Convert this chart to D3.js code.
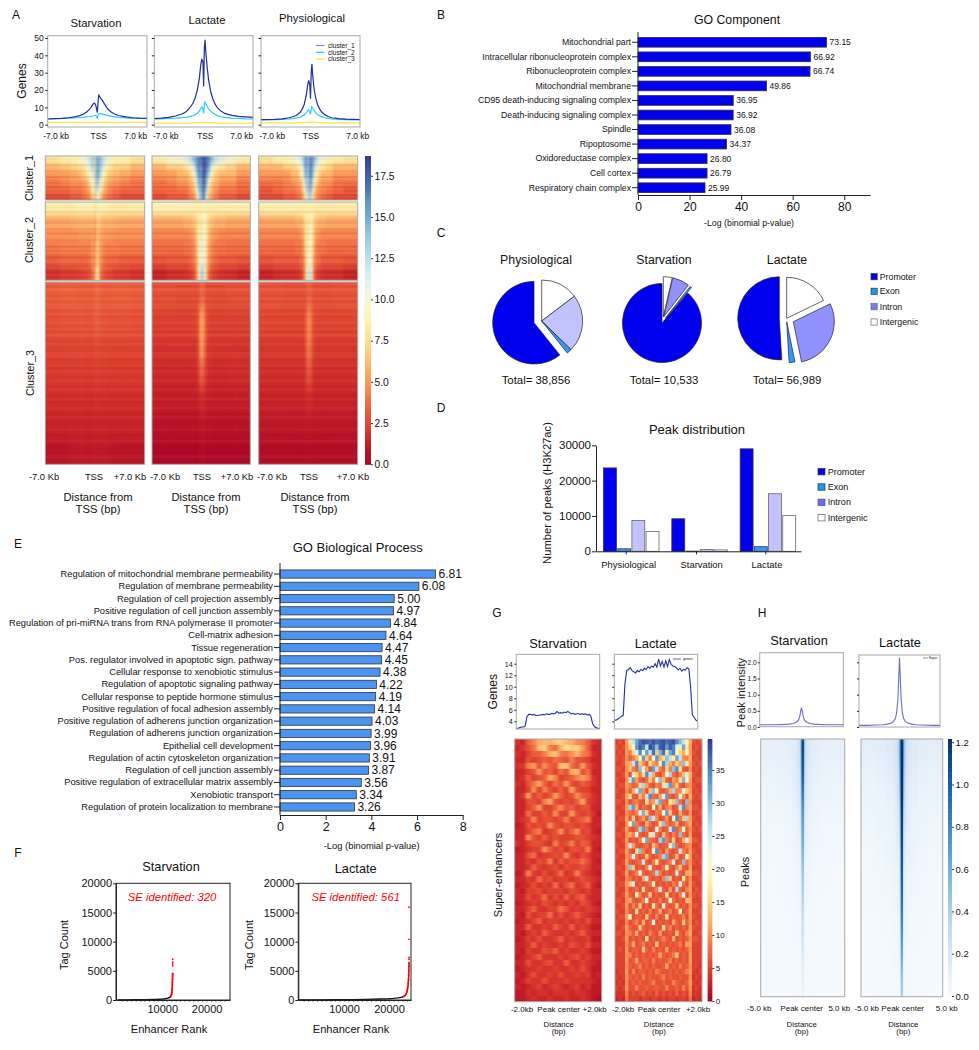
<!DOCTYPE html>
<html>
<head>
<meta charset="utf-8">
<script src="https://cdn.jsdelivr.net/npm/d3@7"></script>
<style>
  html, body { margin: 0; background: #fff; }
  svg { display: block; }
  text { font-family: "Liberation Sans", Arial, sans-serif; fill: #111; }
</style>
</head>
<body>
<div id="chart"></div>
<script>
// --- PART 1: DATA ---

// A: TSS profiles, distance in kb
const tssDistance = [-7,-6,-5,-4,-3,-2.5,-2,-1.5,-1.2,-.9,-.6,-.4,-.25,-.1,0,.1,.2,.3,.5,.7,1,1.3,1.6,2,2.5,3,4,5,6,7];
const starvCluster1 = [3.3,3.5,3.7,4,4.7,5.2,6,7.3,8.5,10,12,12.5,11.5,9,7,13,17,16.5,15,14,12,10,8.5,7.2,6,5.3,4.5,4,3.8,3.7];
const starvCluster2 = [3.3,3.5,3.6,3.8,4,4.1,4.3,4.5,4.6,4.8,5,5.3,5.3,4.8,3.5,5.6,6.3,6.4,6.3,6.1,5.8,5.5,5.2,4.8,4.5,4.2,3.9,3.7,3.6,3.5];
const starvCluster3 = [1.3,1.3,1.3,1.3,1.3,1.3,1.3,1.3,1.3,1.3,1.3,1.3,1.3,1.3,1.2,1.3,1.4,1.4,1.3,1.3,1.3,1.3,1.3,1.3,1.3,1.3,1.3,1.3,1.3,1.3];
const lacCluster1 = [3.5,3.8,4.2,5,6.3,7.5,9.5,12.5,15.5,20,27,35,38,36,22,44,49,42,33,26,19,15,12,9.5,7.7,6.5,5.4,4.8,4.5,4.2];
const lacCluster2 = [3.3,3.4,3.6,3.8,4.1,4.3,4.7,5.3,5.8,6.6,8,9.5,10.3,9,6.5,11.5,13,12,10.5,9.2,7.8,6.8,6,5.2,4.6,4.2,3.8,3.6,3.4,3.3];
const lacCluster3 = [.9,.9,.9,.9,.9,.9,.9,1,1,1.1,1.2,1.3,1.4,1.3,1.1,1.4,1.5,1.4,1.3,1.2,1.1,1,1,.9,.9,.9,.9,.9,.9,.9];
const physCluster1 = [2.9,3,3.1,3.4,4,4.6,5.3,7,8.7,11.5,17,23,25.5,23,15,30,35,29,21,16,11.5,9,7.3,5.8,4.7,4,3.5,3.2,3.1,3];
const physCluster2 = [2.7,2.8,2.9,3,3.3,3.5,3.8,4.3,4.8,5.6,7,8,8.5,7.5,6,9,10.3,9.5,8.3,7,5.8,5,4.5,4,3.6,3.3,3,2.9,2.8,2.8];
const physCluster3 = [1.1,1.1,1.1,1.1,1.1,1.1,1.1,1.2,1.2,1.3,1.4,1.5,1.6,1.5,1.3,1.6,1.7,1.6,1.5,1.3,1.2,1.2,1.1,1.1,1.1,1.1,1.1,1.1,1.1,1.1];
const clusterNames = ["cluster_1", "cluster_2", "cluster_3"];

// A: heatmap cells, column edges in kb
const tssEdges = [-7,-5,-3.5,-2.5,-1.8,-1.3,-.9,-.6,-.3,-.1,.1,.3,.6,.9,1.3,1.8,2.5,3.5,5,7];
const heatStarvC1 = [
  [8,9,9,10,10,11,12,13,14,8,15,15,14,13,11,10,9,9,8],
  [6,6.5,7,7.5,8,9,11,13,13,7,15,15,14,12,9,8,7,7,6],
  [5,5,5.5,6,7,8,9,11,12,7,15,15,13,10,8,6.5,6,5.5,5],
  [4,4.5,5,5,5.5,6,8,10,11,7,14,14,11,8,6.5,5.5,5,4.5,4],
  [3.5,3.5,4,4,4.5,5,6,8,10,7,13,12,9,7,5.5,4.5,4,3.5,3.5],
  [2.5,2.5,3,3,3.5,4,4.5,6,8,5,12,10,7,5,4,3.5,3,2.5,2.5]];
const heatLacC1 = [
  [9,10,10,11,12,14,15,16,17,16,18,18,17,16,14,12,11,10,9],
  [6,7,7,8,9,11,14,16,17,14,18,18,17,15,11,9,8,7,6],
  [5,5,6,6,7,9,12,15,17,14,18,18,16,13,9,7,6,6,5],
  [4,4.5,5,5,6,7,10,14,16,13,18,17,15,10,7,6,5,5,4],
  [3.5,3.5,4,4,5,6,8,12,16,13,17,17,13,8,6,5,4,4,3.5],
  [2.5,3,3,3,4,4.5,6,10,15,12,17,16,11,6,5,4,3,3,2.5]];
const heatPhysC1 = [
  [8,9,9,10,10,11,13,15,16,13,16,16,15,13,11,10,9,9,8],
  [6,6,7,7,8,9,11,15,16,12,17,16,14,11,9,8,7,6,6],
  [5,5,5,6,6,8,10,14,16,11,17,16,13,9,7,6,6,5,5],
  [4,4,4.5,5,5.5,6,8,12,15,11,16,15,11,8,6,5,5,4,4],
  [3,3.5,4,4,4.5,5,7,10,15,11,16,14,9,6,5,4.5,4,3.5,3],
  [2.5,2.5,3,3,3.5,4,5,8,13,10,15,12,7,5,4,3.5,3,2.5,2.5]];
const heatStarvC2 = [
  [8.5,8.5,8.5,9,9,9,9,9,9,7.5,9,9,9,9,9,8.5,8.5,8.5,8.5],
  [5.6,5.6,5.8,6,6,6,6,6,6.5,4.5,7,7,6.5,6,6,6,5.8,5.6,5.6],
  [4.8,4.8,4.8,5,5,5,5,5.2,5.6,3.8,6.4,6.2,5.6,5.2,5,5,4.8,4.8,4.8],
  [4,4.2,4.2,4.2,4.2,4.2,4.3,4.8,5.4,3.8,7,6.5,5.2,4.7,4.2,4.2,4.2,4,4],
  [3.1,3.4,3.4,3.4,3.4,3.5,3.8,4.4,5.2,3.8,7.2,6.6,5,4,3.5,3.4,3.4,3.1,3.1],
  [1.8,2.1,2.1,2.2,2.4,2.6,2.8,3.2,4.8,4,9,8,4.2,3.2,2.7,2.5,2.2,2.1,1.8]];
const heatLacC2 = [
  [9,9,9,9,9,8.8,8.8,8.8,9,8.5,9.5,9.5,9,8.8,8.8,8.8,8.8,8.8,8.8],
  [5.6,5.6,5.6,6,6,6.5,7,8,9,7.5,9.5,9.5,8.5,7,6.5,6,6,5.6,5.6],
  [4.4,4.4,4.4,4.4,4.8,5.2,6.2,8,9.8,7.5,10.2,10.2,8.5,6.2,5.2,4.8,4.4,4.4,4.4],
  [3.6,3.6,3.6,3.8,3.9,4.4,5.4,7.5,10,8,10.8,10.4,8,5.4,4.4,3.9,3.8,3.6,3.6],
  [2.8,3,3,3,3.4,3.9,5,7,10,8.8,11,11,7.5,5,3.9,3.4,3,3,2.8],
  [1.3,1.7,1.7,1.8,2.1,2.6,4,6.8,10.5,13,14,11,6.8,3.6,2.6,2.1,1.8,1.7,1.3]];
const heatPhysC2 = [
  [8.8,8.8,8.8,8.8,8.8,8.8,8.8,8.8,9,8.5,9,9,8.8,8.5,8.5,8.5,8.5,8.5,8.5],
  [5.6,5.6,5.6,5.6,6,6,6.5,7.5,8.8,7.5,9.2,9.2,7.5,6.5,6,6,5.6,5.6,5.6],
  [4.4,4.4,4.4,4.4,4.4,4.8,5.3,7,9.5,7,10,9.5,7,5.3,4.8,4.4,4.4,4.4,4.4],
  [3.6,3.6,3.6,3.6,3.9,3.9,4.4,6.5,9.5,7.5,10,9.5,6.5,4.4,3.9,3.9,3.6,3.6,3.6],
  [2.8,3,3,3,3,3.5,4,5.5,9.5,8.5,10.5,9.5,5.5,4,3.5,3,3,3,2.8],
  [1.3,1.7,1.7,1.7,1.8,2.1,3,5,9.5,12,13,10,4.6,2.6,2.1,1.8,1.7,1.7,1.3]];
const heatStarvC3 = [
  [3.2,3.3,3.3,3.2,3.2,3.2,3.2,3.2,3.3,3.4,3.6,3.5,3.3,3.2,3.2,3.2,3.3,3.3,3.2],
  [2.8,2.9,2.9,2.9,2.9,2.9,2.9,2.9,3,3.1,3.4,3.2,3,2.9,2.9,2.9,2.9,2.9,2.8],
  [2.5,2.5,2.5,2.5,2.5,2.5,2.5,2.5,2.6,2.6,2.7,2.6,2.6,2.5,2.5,2.5,2.5,2.5,2.5],
  [2.1,2.1,2.1,2.1,2.1,2.1,2.1,2.1,2.1,2.1,2.2,2.2,2.1,2.1,2.1,2.1,2.1,2.1,2.1],
  [1.7,1.7,1.7,1.7,1.7,1.7,1.7,1.7,1.7,1.7,1.8,1.7,1.7,1.7,1.7,1.7,1.7,1.7,1.7],
  [1.3,1.3,1.3,1.3,1.3,1.3,1.3,1.3,1.3,1.3,1.3,1.3,1.3,1.3,1.3,1.3,1.3,1.3,1.3],
  [.8,.8,.9,.9,.9,.9,.9,.9,.9,.9,.9,.9,.9,.9,.9,.9,.8,.8,.8]];
const heatLacC3 = [
  [2.8,2.8,2.7,2.7,2.7,2.7,2.7,2.8,3.2,3.5,3.7,3.2,2.8,2.7,2.7,2.7,2.7,2.8,2.8],
  [2.3,2.3,2.3,2.3,2.3,2.3,2.4,2.8,4.6,5.4,5.8,4.4,2.8,2.4,2.3,2.3,2.3,2.3,2.3],
  [1.9,1.9,1.9,1.9,1.9,1.9,2,2.5,4.4,5.2,5.2,4,2.5,2,1.9,1.9,1.9,1.9,1.9],
  [1.5,1.5,1.5,1.5,1.5,1.5,1.6,2,2.9,3.5,3.4,2.7,2,1.6,1.5,1.5,1.5,1.6,1.6],
  [1.1,1.1,1.1,1.1,1.1,1.1,1.1,1.2,1.5,1.6,1.6,1.4,1.2,1.1,1.1,1.1,1.1,1.1,1.1],
  [.7,.7,.7,.7,.7,.7,.7,.7,.8,.8,.8,.8,.7,.7,.7,.7,.7,.7,.7],
  [.3,.3,.3,.3,.3,.3,.3,.3,.4,.4,.4,.4,.3,.3,.3,.3,.3,.3,.3]];
const heatPhysC3 = [
  [2.9,2.9,2.8,2.8,2.8,2.8,2.8,2.8,3.1,3.3,3.5,3.2,2.8,2.8,2.8,2.8,2.8,2.9,2.9],
  [2.5,2.5,2.5,2.5,2.5,2.5,2.5,2.7,4,4.6,4.8,3.9,2.7,2.5,2.5,2.5,2.5,2.5,2.5],
  [2.1,2.1,2.1,2.1,2.1,2.1,2.1,2.4,3.6,4.2,4.2,3.4,2.4,2.1,2.1,2.1,2.1,2.1,2.1],
  [1.7,1.7,1.7,1.7,1.7,1.7,1.7,1.9,2.6,3,3,2.5,1.9,1.7,1.7,1.7,1.7,1.7,1.7],
  [1.3,1.3,1.3,1.3,1.3,1.3,1.3,1.4,1.5,1.6,1.6,1.5,1.4,1.3,1.3,1.3,1.3,1.3,1.3],
  [.9,.9,.9,.9,.9,.9,.9,.9,.9,1,1,.9,.9,.9,.9,.9,.9,.9,.9],
  [.5,.5,.5,.5,.5,.5,.5,.5,.5,.5,.5,.5,.5,.5,.5,.5,.5,.5,.5]];
// A: row to row banding (same gene order in the three conditions)
const stripesC1 = [2,-1,1,0,-2,1,2,-1,0,1,-2,2,0,-1,1,-2,1,0,2,-1,1,-2];
const stripesC2 = [2,1,-1,2,-2,1,0,2,-1,-2,1,2,-1,0,-2,2,1,-1,0,2,-2,1,-1,2,0,-2,1,2,-1,-1,2,0,-2,1,-1,1];
const stripesC3 = [1,-1,2,0,-1,1,-1,1,1,-1,1,-1,0,1,-1,1,-1,2,0,-1,1,-1,-1,1,1,-1,0,1,-1,1,0,-1,1,0,-1,1,0,-1,1,-1,0,1,0,-1,1,0,-1,0,1,0,-1,0,1,0,-1,0,0,1,0,-1];
const heatTicks = [0,2.5,5,7.5,10,12.5,15,17.5];

// B: GO Component
const goComponentTerms = ["Mitochondrial part","Intracellular ribonucleoprotein complex","Ribonucleoprotein complex","Mitochondrial membrane","CD95 death-inducing signaling complex","Death-inducing signaling complex","Spindle","Ripoptosome","Oxidoreductase complex","Cell cortex","Respiratory chain complex"];
const goComponentValues = [73.15,66.92,66.74,49.86,36.95,36.92,36.08,34.37,26.80,26.79,25.99];

// C: pie slices, clockwise from the top
const pieSlices = ["Intergenic","Intron","Exon","Promoter"];
const piePhysiological = [5700,8800,756,23600];
const pieStarvation = [380,730,74,9349];
const pieLactate = [10150,16500,1300,29039];
const pieTotals = ["38,856","10,533","56,989"];

// D: Peak distribution
const conditions = ["Physiological","Starvation","Lactate"];
const peakTypes = ["Promoter","Exon","Intron","Intergenic"];
const peaksPromoter = [23600,9200,29000];
const peaksExon = [700,50,1300];
const peaksIntron = [8700,500,16300];
const peaksIntergenic = [5600,400,10100];

// E: GO Biological Process
const goProcessTerms = ["Regulation of mitochondrial membrane permeability","Regulation of membrane permeability","Regulation of cell projection assembly","Positive regulation of cell junction assembly","Regulation of pri-miRNA trans from RNA polymerase II promoter","Cell-matrix adhesion","Tissue regeneration","Pos. regulator involved in apoptotic sign. pathway","Cellular response to xenobiotic stimulus","Regulation of apoptotic signaling pathway","Cellular response to peptide hormone stimulus","Positive regulation of focal adhesion assembly","Positive regulation of adherens junction organization","Regulation of adherens junction organization","Epithelial cell development","Regulation of actin cytoskeleton organization","Regulation of cell junction assembly","Positive regulation of extracellular matrix assembly","Xenobiotic transport","Regulation of protein localization to membrane"];
const goProcessValues = [6.81,6.08,5.00,4.97,4.84,4.64,4.47,4.45,4.38,4.22,4.19,4.14,4.03,3.99,3.96,3.91,3.87,3.56,3.34,3.26];

// F: enhancer rank curves
const starvRank = [0,2000,4000,6000,8000,9000,10000,10500,11000,11300,11600,11800,11900];
const starvTag = [10,20,40,60,90,120,170,210,280,340,430,520,600];
const starvSeRank = [11900,12000,12100,12150,12200,12230,12260,12280,12300,12320,12340,12350,12350,12350,12350,12350];
const starvSeTag = [600,750,1000,1300,1700,2100,2600,3100,3600,4100,4500,4500,5900,6200,6500,7000];
const lacRank = [0,4000,8000,12000,15000,18000,20000,21000,22000,22600,23000,23300];
const lacTag = [10,20,40,70,100,160,220,280,360,440,520,620];
const lacSeRank = [23300,23600,23800,24000,24100,24200,24280,24340,24380,24420,24440,24450,24450,24450,24450,24450];
const lacSeTag = [620,800,1000,1400,1800,2300,2900,3500,4200,5000,5800,6400,7000,7300,10400,15900];
const seCounts = [320,561];

// G: super-enhancer profiles and heatmaps
const seStarvProfile = [2.7,2.8,2.9,3,3,3.2,4.8,5.2,5.2,5.1,5.2,5,5,5.1,5.1,5.2,5.1,5.3,5.2,5.2,5.4,5.3,5.4,5.7,5.4,5.5,5.4,5.6,5.5,5.7,5.5,5.3,5.4,5.2,5.3,5.3,5.2,5.3,5.2,5.3,5.1,5.2,4.9,3.6,3.1,2.9,2.8,2.7];
const seLacProfile = [4.2,4.2,4.4,4.6,4.9,5,10.5,12.8,13,13.3,12.8,12.6,12.4,12.8,12.6,13,12.8,13.2,13,13.5,13.2,13.6,13.4,14,13.4,14.8,13.6,14.4,13.4,14.5,13.5,14.7,13.9,13.6,13.5,13.3,12.9,13.2,12.7,13,12.9,13.3,13.1,10,5.1,4.7,4.2,4];
const seTicks = [0,5,10,15,20,25,30,35];
const heatSeStarv = [
  [4,3,7,9,12,13,12,14,15,13,12,10,9,7,4,3],
  [3,4,6,8,13,15,9,8,12,16,14,15,11,7,3,3],
  [4,3,5,7,7,9,12,14,9,8,10,13,9,8,4,3],
  [3,3,6,5,6,7,6,8,7,6,9,6,6,5,3,3],
  [4,4,9,11,6,10,7,6,13,14,8,6,11,6,4,3],
  [3,3,5,6,11,6,7,5,8,6,12,13,6,8,3,3],
  [3,4,7,5,6,7,12,9,5,6,7,9,11,9,4,3],
  [4,3,6,8,12,7,5,8,6,11,6,5,7,6,4,3],
  [3,3,5,10,5,9,6,5,7,5,12,6,5,5,3,3],
  [3,4,11,5,7,5,6,11,7,5,6,10,7,6,4,3],
  [3,3,6,6,5,9,12,6,5,6,5,7,12,5,4,3],
  [3,3,5,7,11,5,5,7,10,6,7,5,6,6,3,3],
  [3,3,8,5,5,7,5,10,5,5,11,6,5,6,4,2],
  [3,4,5,10,5,6,6,5,6,9,5,6,7,9,3,3],
  [2,3,6,5,6,5,10,6,5,6,6,5,6,5,3,3],
  [3,3,5,7,9,4,5,6,10,5,7,10,5,6,3,2],
  [3,3,10,6,5,7,5,6,5,5,5,6,6,5,4,3],
  [4,3,5,6,6,5,4,9,5,6,9,5,7,6,3,3],
  [2,3,4,5,5,10,7,5,6,4,6,6,5,9,3,2],
  [3,3,6,8,4,5,5,6,5,10,5,4,6,5,3,3],
  [3,3,5,4,6,5,9,4,7,5,6,6,8,6,3,2],
  [3,3,4,7,5,4,5,6,4,6,5,5,6,5,3,3],
  [2,3,9,5,4,6,4,5,8,4,5,9,5,4,3,2],
  [3,3,5,4,8,5,6,4,5,5,4,5,6,5,4,3],
  [2,3,4,6,4,5,4,8,4,6,8,4,5,7,3,2],
  [3,2,5,5,6,4,5,5,5,4,6,5,4,5,3,3],
  [3,3,6,4,5,8,4,6,4,7,4,6,7,4,3,3],
  [2,3,4,5,4,6,5,4,5,4,5,4,6,5,3,2],
  [3,3,5,7,4,4,5,5,8,6,4,5,4,5,4,3],
  [3,2,6,4,5,5,8,4,6,4,5,7,5,4,3,2],
  [2,3,4,5,7,4,5,5,4,5,4,5,4,6,3,3],
  [3,3,7,4,4,5,4,7,5,4,7,4,5,4,2,2],
  [3,2,4,5,4,7,5,4,4,5,4,5,7,4,3,3],
  [2,3,5,4,6,4,4,5,7,4,5,4,4,5,2,2],
  [3,3,4,7,4,5,4,4,5,4,6,5,4,6,3,3],
  [3,2,5,4,4,6,5,7,4,5,4,4,5,4,2,2],
  [2,3,4,5,7,4,4,4,5,4,5,6,4,5,3,3],
  [3,3,6,4,4,5,6,4,4,7,4,4,5,4,3,2],
  [2,3,4,4,5,4,4,5,4,4,5,4,6,4,2,2],
  [3,2,4,6,4,4,5,4,6,4,4,5,4,5,2,3],
  [2,3,5,4,4,6,4,4,4,5,4,4,4,4,3,2],
  [3,2,3,4,5,3,4,5,4,3,4,5,3,4,2,2],
  [2,2,4,3,4,4,3,4,4,4,3,4,4,3,2,2],
  [2,2,3,4,3,3,4,3,3,4,3,3,4,3,2,1]];
const heatSeLac = [
  [5,6,5,11,17,26,32,36,38,37,36,38,36,37,38,36,37,38,34,30,26,20,12,6,5,6],
  [6,5,6,10,14,20,33,37,35,26,38,36,30,37,38,33,37,35,24,18,32,17,11,5,6,5],
  [5,6,5,11,9,15,24,34,20,33,26,36,14,31,36,17,32,35,21,15,12,20,11,6,5,5],
  [6,5,6,10,7,9,12,19,33,14,9,22,33,12,16,30,26,18,32,26,10,9,12,5,6,5],
  [5,5,6,11,12,26,34,14,10,7,16,11,9,20,34,28,12,9,14,11,30,17,11,6,5,6],
  [6,6,5,10,13,9,7,30,22,11,6,33,26,9,7,15,9,30,34,16,7,6,10,5,6,5],
  [5,5,6,11,6,20,14,9,16,34,26,12,7,6,9,20,28,8,6,9,13,24,12,6,5,5],
  [6,5,5,10,26,33,11,7,6,8,14,9,22,30,13,7,6,11,9,17,31,20,11,5,6,6],
  [5,6,6,11,9,7,8,16,28,11,7,6,9,8,17,26,33,9,14,7,6,9,10,6,5,5],
  [6,5,5,10,7,12,24,32,10,6,14,30,20,7,6,8,12,28,9,10,22,14,11,5,6,5],
  [5,5,6,11,17,7,6,14,9,26,34,8,7,11,24,33,7,6,8,24,10,6,12,6,5,6],
  [6,6,5,10,6,8,9,7,6,16,9,11,26,32,8,7,17,14,30,8,6,30,10,5,5,5],
  [5,5,6,11,28,33,12,6,8,7,6,20,7,12,6,9,10,6,7,26,34,9,11,6,6,5],
  [6,5,5,10,8,7,9,24,31,15,7,6,9,8,22,33,14,7,6,12,7,6,10,5,5,6],
  [5,6,6,11,7,14,6,8,11,7,30,26,10,6,7,11,6,22,34,8,14,28,11,6,5,5],
  [6,5,5,10,20,32,9,7,6,13,8,6,7,17,30,9,7,8,12,6,7,9,12,5,6,5],
  [5,5,6,11,7,6,8,28,33,9,6,7,24,9,6,7,26,34,7,9,20,7,10,6,5,6],
  [6,6,5,10,12,9,24,7,6,7,17,26,8,6,13,8,6,9,7,30,8,6,11,5,5,5],
  [5,5,6,11,6,7,6,9,20,32,8,7,6,28,33,9,7,14,6,7,12,24,12,6,6,5],
  [6,5,5,10,26,11,7,6,7,8,6,13,9,6,7,7,22,30,8,6,7,9,10,5,5,6],
  [5,6,6,11,7,6,17,30,9,6,7,22,34,8,6,11,7,6,7,26,9,7,11,6,5,5],
  [6,5,5,10,9,24,8,6,7,14,7,6,7,9,28,32,6,7,13,6,7,20,11,5,6,5],
  [5,5,6,11,7,6,7,8,26,7,6,9,17,7,6,7,9,24,6,7,30,8,10,6,5,6],
  [6,6,5,10,30,14,6,7,6,9,24,7,6,6,8,20,7,6,9,14,7,6,11,5,5,5],
  [5,5,6,11,6,7,9,22,7,6,7,8,28,9,6,7,6,7,26,7,6,12,12,6,6,5],
  [6,5,5,10,8,6,7,6,12,26,7,6,7,6,9,30,14,6,7,6,17,7,10,5,5,6],
  [5,6,6,11,14,24,6,7,6,7,8,20,6,7,6,7,6,9,7,22,8,6,11,6,5,5],
  [6,5,5,10,6,7,8,6,17,7,6,7,9,26,7,6,11,6,28,7,6,9,11,5,6,5],
  [5,5,6,11,7,6,20,9,6,7,14,6,7,6,7,17,6,7,6,9,24,6,10,6,5,6],
  [6,6,5,10,12,7,6,7,9,24,6,7,6,9,6,7,20,8,6,7,6,13,12,5,5,5],
  [5,5,6,11,6,9,7,14,6,7,6,17,8,6,24,7,6,7,14,6,7,6,10,6,6,5],
  [6,5,5,10,7,6,17,6,7,6,9,6,7,12,6,7,9,6,7,20,6,7,11,5,5,6],
  [5,6,6,11,20,6,7,7,6,14,7,6,9,6,7,17,6,7,6,7,9,6,11,6,5,5],
  [6,5,5,10,6,7,9,6,12,6,7,24,6,7,6,7,6,11,7,6,14,7,10,5,6,5],
  [5,5,6,11,7,6,6,14,7,6,7,6,7,6,17,7,9,6,7,6,7,6,11,6,5,5],
  [6,6,5,10,9,7,12,6,7,6,9,7,6,11,6,6,7,6,14,7,6,9,12,5,5,6],
  [5,5,6,11,6,7,6,7,6,17,6,7,6,7,9,7,6,12,6,7,6,7,10,6,6,5],
  [5,5,5,10,7,12,6,7,9,6,7,6,14,6,7,6,7,6,7,9,6,11,11,5,5,5],
  [5,6,5,11,6,7,7,6,14,7,6,9,6,7,6,11,6,7,6,7,6,7,10,5,5,5],
  [5,5,5,10,9,6,7,6,7,6,7,6,7,11,7,6,7,9,14,6,7,6,11,5,5,5],
  [5,5,5,11,6,7,11,6,7,7,6,9,6,7,6,7,9,6,7,6,7,6,11,5,5,5],
  [5,5,5,10,7,6,7,9,6,7,6,7,6,6,7,12,6,7,6,9,6,7,10,5,5,4],
  [4,5,5,11,6,9,6,7,7,6,7,6,9,7,6,6,7,6,7,6,7,9,11,5,4,5],
  [5,4,5,10,7,6,7,6,9,6,7,6,6,7,9,6,7,6,6,7,6,6,10,4,5,4],
  [4,5,4,10,6,7,6,7,6,6,7,9,6,6,7,6,6,9,7,6,6,7,11,5,4,5],
  [5,4,5,11,6,6,9,6,6,7,6,6,7,6,6,9,6,6,7,6,9,6,10,4,5,4],
  [4,4,4,9,5,6,5,6,7,5,6,5,7,5,6,5,6,5,7,5,6,5,9,4,4,4],
  [3,4,3,8,5,5,5,4,5,5,4,5,5,4,5,4,5,5,4,5,5,4,8,3,4,3]];

// H: peak profiles and heatmaps
const peakDistance = [-5,-4,-3,-2,-1.5,-1,-.7,-.5,-.35,-.2,-.1,0,.1,.2,.35,.5,.7,1,1.5,2,3,4,5];
const peakStarvProfile = [.07,.07,.07,.08,.09,.11,.14,.17,.22,.33,.48,.6,.48,.33,.22,.17,.14,.11,.09,.08,.07,.07,.07];
const peakLacProfile = [.05,.05,.06,.07,.09,.12,.18,.27,.45,.85,1.5,2.15,1.5,.85,.45,.27,.18,.12,.09,.07,.06,.05,.05];
const peakTicks = [0,.2,.4,.6,.8,1,1.2];
const peakEdges = [-5,-3.2,-2,-1.2,-.8,-.5,-.3,-.15,.15,.3,.5,.8,1.2,2,3.2,5];
const heatPeakStarv = [
  [.1,.1,.12,.14,.18,.26,.5,1.1,.5,.26,.18,.14,.12,.1,.1],
  [.08,.09,.1,.12,.16,.22,.42,1,.42,.22,.16,.12,.1,.09,.08],
  [.06,.07,.08,.1,.13,.18,.34,.85,.34,.18,.13,.1,.08,.07,.06],
  [.05,.05,.06,.08,.1,.14,.26,.7,.26,.14,.1,.08,.06,.05,.05],
  [.04,.04,.05,.06,.08,.1,.2,.62,.2,.1,.08,.06,.05,.04,.04],
  [.03,.03,.04,.05,.06,.08,.14,.52,.14,.08,.06,.05,.04,.03,.03],
  [.02,.03,.03,.04,.05,.06,.1,.42,.1,.06,.05,.04,.03,.03,.02],
  [.02,.02,.03,.03,.04,.05,.07,.34,.07,.05,.04,.03,.03,.02,.02],
  [.02,.02,.02,.03,.03,.04,.05,.26,.05,.04,.03,.03,.02,.02,.02],
  [.01,.02,.02,.02,.03,.03,.04,.2,.04,.03,.03,.02,.02,.02,.01],
  [.01,.01,.02,.02,.02,.03,.03,.14,.03,.03,.02,.02,.02,.01,.01],
  [.01,.01,.01,.02,.02,.02,.02,.08,.02,.02,.02,.02,.01,.01,.01]];
const heatPeakLac = [
  [.12,.13,.15,.18,.24,.36,.75,1.2,.75,.36,.24,.18,.15,.13,.12],
  [.09,.1,.12,.15,.2,.3,.65,1.2,.65,.3,.2,.15,.12,.1,.09],
  [.07,.08,.1,.12,.17,.25,.55,1.2,.55,.25,.17,.12,.1,.08,.07],
  [.06,.07,.08,.1,.14,.2,.42,1.15,.42,.2,.14,.1,.08,.07,.06],
  [.05,.06,.07,.08,.11,.16,.32,1.1,.32,.16,.11,.08,.07,.06,.05],
  [.04,.05,.06,.07,.09,.12,.25,1.05,.25,.12,.09,.07,.06,.05,.04],
  [.03,.04,.05,.06,.08,.1,.18,.98,.18,.1,.08,.06,.05,.04,.03],
  [.03,.03,.04,.05,.06,.08,.14,.9,.14,.08,.06,.05,.04,.03,.03],
  [.02,.03,.03,.04,.05,.06,.1,.8,.1,.06,.05,.04,.03,.03,.02],
  [.02,.02,.03,.03,.04,.05,.08,.68,.08,.05,.04,.03,.03,.02,.02],
  [.02,.02,.02,.03,.03,.04,.06,.55,.06,.04,.03,.03,.02,.02,.02],
  [.01,.02,.02,.02,.03,.03,.04,.42,.04,.03,.03,.02,.02,.02,.01]];

// --- PART 2: SVG AND SMALL HELPERS ---
const FIG_WIDTH = 979, FIG_HEIGHT = 1050;
const svg = d3.select("#chart").append("svg").attr("width", FIG_WIDTH).attr("height", FIG_HEIGHT);
const defs = svg.append("defs");
let clipCount = 0;

function label(x, y, str, size, opts = {}) {
  const t = svg.append("text")
    .attr("x", x).attr("y", y).attr("dy", ".35em")
    .attr("font-size", size)
    .attr("text-anchor", opts.anchor || "middle")
    .text(str);
  if (opts.rotate) t.attr("transform", `rotate(${opts.rotate} ${x} ${y})`);
  if (opts.color) t.style("fill", opts.color);
  if (opts.italic) t.attr("font-style", "italic");
  return t;
}

function styleAxis(g, size, color) {
  g.selectAll("text").attr("font-size", size).attr("font-family", null).style("fill", "#111");
  g.selectAll("line,path").attr("stroke", color || "#222");
  return g;
}

function panelBox(box, color, width) {
  svg.append("rect")
    .attr("x", box.x0).attr("y", box.y0)
    .attr("width", box.x1 - box.x0).attr("height", box.y1 - box.y0)
    .attr("fill", "none").attr("stroke", color || "#a8a8a8").attr("stroke-width", width || 1);
}

// Coarse cells, softened a little so they read like the dense original
function drawHeat(rows, edges, box, color, blur, stripes) {
  const id = "heat" + (clipCount++);
  defs.append("clipPath").attr("id", "clip-" + id).append("rect")
    .attr("x", box.x0).attr("y", box.y0)
    .attr("width", box.x1 - box.x0).attr("height", box.y1 - box.y0);
  defs.append("filter").attr("id", "blur-" + id)
    .attr("x", "-10%").attr("y", "-10%").attr("width", "120%").attr("height", "120%")
    .attr("color-interpolation-filters", "sRGB")
    .append("feGaussianBlur").attr("stdDeviation", blur.join(" "));
  const x = d3.scaleLinear().domain([edges[0], edges[edges.length - 1]]).range([box.x0, box.x1]);
  const y = d3.scaleBand().domain(d3.range(rows.length)).range([box.y0, box.y1]);
  const outer = svg.append("g").attr("clip-path", `url(#clip-${id})`);
  const g = outer.append("g").attr("filter", `url(#blur-${id})`);
  rows.forEach((row, r) => {
    row.forEach((v, c) => {
      // the outer cells run past the clip so the blur does not fade at the edge
      const left = c === 0 ? box.x0 - 12 : x(edges[c]);
      const right = c === row.length - 1 ? box.x1 + 12 : x(edges[c + 1]);
      const top = r === 0 ? box.y0 - 12 : y(r);
      const bottom = r === rows.length - 1 ? box.y1 + 12 : y(r) + y.bandwidth();
      g.append("rect")
        .attr("x", left).attr("y", top)
        .attr("width", right - left + .6).attr("height", bottom - top + .6)
        .attr("fill", color(v));
    });
  });
  if (stripes) {
    const sy = d3.scaleBand().domain(d3.range(stripes.length)).range([box.y0, box.y1]);
    outer.append("g").selectAll("rect").data(stripes).join("rect")
      .attr("x", box.x0).attr("width", box.x1 - box.x0)
      .attr("y", (d, i) => sy(i)).attr("height", sy.bandwidth())
      .attr("fill", d => d > 0 ? "#ffd890" : "#8a0020")
      .attr("opacity", d => Math.abs(d) * .05);
  }
  panelBox(box, "#a8a8a8", 1);
}

function drawColorbar(box, color, domainMax, ticks, tickFormat, fontSize, labelX) {
  const y = d3.scaleLinear().domain([0, domainMax]).range([box.y1, box.y0]);
  const steps = d3.range(0, domainMax, domainMax / 150);
  svg.append("g").selectAll("rect").data(steps).join("rect")
    .attr("x", box.x0).attr("width", box.x1 - box.x0)
    .attr("y", d => y(d + domainMax / 150)).attr("height", (box.y1 - box.y0) / 150 + .5)
    .attr("fill", d => color(d));
  const axis = svg.append("g").attr("transform", `translate(${box.x1},0)`)
    .call(d3.axisRight(y).tickValues(ticks).tickSize(2).tickPadding(labelX).tickFormat(tickFormat));
  axis.select(".domain").remove();
  styleAxis(axis, fontSize, "#333");
}

// --- PART 3: PANEL A ---
label(16, 15, "A", 12);
const tssPanels = [
  {title: "Starvation", tx: 96, ty: 23, box: {x0: 47.7, x1: 147, y0: 35.7, y1: 127}, series: [starvCluster3, starvCluster2, starvCluster1]},
  {title: "Lactate", tx: 207, ty: 20, box: {x0: 154.3, x1: 253, y0: 35.7, y1: 127}, series: [lacCluster3, lacCluster2, lacCluster1]},
  {title: "Physiological", tx: 312, ty: 18.5, box: {x0: 261, x1: 360, y0: 35.7, y1: 127}, series: [physCluster3, physCluster2, physCluster1]}
];
const clusterColors = ["#ffe53b", "#26c9fb", "#222f92"];
tssPanels.forEach((p, i) => {
  const x = d3.scaleLinear().domain([-7, 7]).range([p.box.x0, p.box.x1]);
  const y = d3.scaleLinear().domain([0, 50]).range([124.7, 38]);
  const line = d3.line().x((d, k) => x(tssDistance[k])).y(d => y(d));
  p.series.forEach((s, k) => {
    svg.append("path").attr("d", line(s)).attr("fill", "none")
      .attr("stroke", clusterColors[k]).attr("stroke-width", 1.2);
  });
  panelBox(p.box);
  const axis = svg.append("g").attr("transform", `translate(${p.box.x0},0)`)
    .call(d3.axisLeft(y).tickValues([0,10,20,30,40,50]).tickSize(2.5).tickPadding(1.5));
  axis.select(".domain").remove();
  styleAxis(axis, 8.5);
  if (i > 0) axis.selectAll("text").remove();
  label(p.tx, p.ty, p.title, 11.3);
});
[[56,"-7.0 kb"],[98.7,"TSS"],[135.7,"7.0 kb"],[165.7,"-7.0 kb"],[205.3,"TSS"],[241.7,"7.0 kb"],[272.3,"-7.0 kb"],[311,"TSS"],[357.7,"7.0 kb"]]
  .forEach(d => label(d[0], 136, d[1], 8.4));
label(22, 81, "Genes", 12, {rotate: -90});
// legend of the profile panels
clusterNames.forEach((name, i) => {
  const yy = 45.5 + i * 6.8;
  svg.append("line").attr("x1", 316).attr("x2", 324.5).attr("y1", yy).attr("y2", yy)
    .attr("stroke", ["#7d8cd0", "#26c9fb", "#ffe53b"][i]).attr("stroke-width", 1.2);
  label(328, yy, name, 6.6, {anchor: "start"});
});

const tssColor = d3.scaleSequential(d3.interpolateRdYlBu).domain([0, 18.7]);
const heatColumns = [{x0: 45.3, x1: 144.7}, {x0: 152, x1: 250.3}, {x0: 258.7, x1: 357.7}];
const heatClusters = [
  {y0: 156, y1: 200, blur: [.8, 2], rows: [heatStarvC1, heatLacC1, heatPhysC1], stripes: stripesC1},
  {y0: 202, y1: 280.3, blur: [.8, 2.8], rows: [heatStarvC2, heatLacC2, heatPhysC2], stripes: stripesC2},
  {y0: 282, y1: 464.3, blur: [.8, 7], rows: [heatStarvC3, heatLacC3, heatPhysC3], stripes: stripesC3}
];
heatClusters.forEach(cl => {
  heatColumns.forEach((col, i) => {
    drawHeat(cl.rows[i], tssEdges, {x0: col.x0, x1: col.x1, y0: cl.y0, y1: cl.y1}, tssColor, cl.blur, cl.stripes);
  });
});
label(29, 178, "Cluster_1", 10.8, {rotate: -90});
label(29, 240, "Cluster_2", 10.8, {rotate: -90});
label(30, 373, "Cluster_3", 10.8, {rotate: -90});
drawColorbar({x0: 365, x1: 371, y0: 156, y1: 464.3}, tssColor, 18.7, heatTicks, d3.format(".1f"), 10.3, 1.5);
[[44,"-7.0 Kb"],[94,"TSS"],[130,"+7.0 Kb"],[165,"-7.0 Kb"],[202,"TSS"],[237,"+7.0 Kb"],[272,"-7.0 Kb"],[309,"TSS"],[353,"+7.0 Kb"]]
  .forEach(d => label(d[0], 476.7, d[1], 9.4));
[98, 206, 315].forEach(cx => {
  label(cx, 497, "Distance from", 11.2);
  label(cx, 509, "TSS (bp)", 11.2);
});

// --- PART 4: PANEL B ---
label(441, 15, "B", 12);
function hBars(terms, values, opts) {
  const x = d3.scaleLinear().domain(opts.xDomain).range([opts.x0, opts.x1]);
  const y = d3.scaleBand().domain(terms).range([opts.y0, opts.y1]).paddingInner(opts.pad).paddingOuter(opts.pad / 2);
  svg.append("g").selectAll("rect").data(terms).join("rect")
    .attr("x", opts.x0).attr("y", d => y(d))
    .attr("width", (d, i) => x(values[i]) - opts.x0)
    .attr("height", y.bandwidth())
    .attr("fill", opts.fill).attr("stroke", "#333").attr("stroke-width", .8);
  const yAxis = svg.append("g").attr("transform", `translate(${opts.x0},0)`)
    .call(d3.axisLeft(y).tickSize(6).tickPadding(1).tickSizeOuter(0));
  styleAxis(yAxis, opts.termSize);
  yAxis.select(".domain").attr("d", `M0,${opts.top}V${opts.axisY}`).attr("stroke-width", 1);
  const xAxis = svg.append("g").attr("transform", `translate(0,${opts.axisY})`)
    .call(d3.axisBottom(x).tickValues(opts.ticks).tickSize(5).tickPadding(2).tickSizeOuter(0));
  styleAxis(xAxis, opts.tickSize);
  xAxis.selectAll(".domain,line").attr("stroke-width", 1);
  svg.append("g").selectAll("text").data(terms).join("text")
    .attr("x", (d, i) => x(values[i]) + 3)
    .attr("y", d => y(d) + y.bandwidth() / 2).attr("dy", ".35em")
    .attr("font-size", opts.valueSize)
    .text((d, i) => values[i].toFixed(2));
}
hBars(goComponentTerms, goComponentValues, {
  xDomain: [0, 90], x0: 638, x1: 870, y0: 35, y1: 195, top: 32, axisY: 195,
  pad: .33, fill: "#0000ee", ticks: [0,20,40,60,80], termSize: 8.7, tickSize: 12, valueSize: 8.5
});
label(737, 20, "GO Component", 12.3);
label(749, 222.7, "-Log (binomial p-value)", 8.8);

// --- PART 5: PANEL C ---
label(441, 233, "C", 12);
const pieFills = ["#ffffff", "#9191ff", "#3399ff", "#0000ee"];
const piePanels = [
  {title: "Physiological", cx: 536, r: [41,41,41,41.3], values: piePhysiological,
   centers: [[541.7,321],[541.7,321],[541.7,321],[534,322.7]], fills: ["#ffffff","#c2c2ff","#3399ff","#0000ee"]},
  {title: "Starvation", cx: 664, r: [40,40,40,39.5], values: pieStarvation,
   centers: [[663.3,316.7],[663.8,316.7],[665.5,318],[662,323]], fills: pieFills},
  {title: "Lactate", cx: 787, r: [41,41,41,41.6], values: pieLactate,
   centers: [[786.7,318.3],[793.3,321.7],[786.7,321.7],[779.3,318.3]], fills: pieFills}
];
piePanels.forEach((p, i) => {
  const arcs = d3.pie().sort(null)(p.values);
  const arc = d3.arc().innerRadius(0);
  arcs.forEach((a, k) => {
    svg.append("path")
      .attr("d", arc.outerRadius(p.r[k])(a))
      .attr("transform", `translate(${p.centers[k][0]},${p.centers[k][1]})`)
      .attr("fill", p.fills[k]).attr("stroke", "#222").attr("stroke-width", .7);
  });
  label(p.cx, 260, p.title, 12.3);
  label(p.cx, 380, "Total= " + pieTotals[i], 11.4);
});
function legend(names, x, ys, fills, strokes, w, h, textX, size) {
  names.forEach((name, i) => {
    svg.append("rect").attr("x", x).attr("y", ys[i] - h / 2).attr("width", w).attr("height", h)
      .attr("fill", fills[i]).attr("stroke", strokes[i]).attr("stroke-width", .7);
    label(textX, ys[i], name, size, {anchor: "start"});
  });
}
legend(peakTypes, 871, [276.7,291.3,306.7,322], ["#0000ee","#1a9af0","#7a7aee","#fff"], ["#334","#334","#666","#666"], 6.2, 6.2, 879.7, 8.8);

// --- PART 6: PANEL D ---
label(441, 408, "D", 12);
const dX = d3.scaleBand().domain(conditions).range([596, 801]).paddingInner(0).paddingOuter(0);
const dInner = d3.scaleBand().domain(peakTypes).range([7.5, 63]).paddingInner(.09);
const dY = d3.scaleLinear().domain([0, 30000]).range([551.3, 445.3]);
const peakSeries = [peaksPromoter, peaksExon, peaksIntron, peaksIntergenic];
const barFills = ["#0000ee", "#3399ff", "#c2c2ff", "#ffffff"];
peakTypes.forEach((type, k) => {
  svg.append("g").selectAll("rect").data(conditions).join("rect")
    .attr("x", d => dX(d) + dInner(type))
    .attr("y", (d, i) => dY(peakSeries[k][i]))
    .attr("width", dInner.bandwidth())
    .attr("height", (d, i) => dY(0) - dY(peakSeries[k][i]))
    .attr("fill", barFills[k])
    .attr("stroke", k < 2 ? "#334" : "#666").attr("stroke-width", .8);
});
const dYAxis = svg.append("g").attr("transform", "translate(596,0)")
  .call(d3.axisLeft(dY).tickValues([0,10000,20000,30000]).tickFormat(d3.format("d")).tickSize(4).tickPadding(1).tickSizeOuter(0));
styleAxis(dYAxis, 11.5);
const dXAxis = svg.append("g").attr("transform", "translate(0,551.3)")
  .call(d3.axisBottom(dX).tickSize(3).tickFormat("").tickSizeOuter(0));
styleAxis(dXAxis, 9);
dXAxis.selectAll(".tick line").attr("transform", d => `translate(${d === "Physiological" ? -4 : d === "Lactate" ? -1 : -2},0)`);
[[628.7,"Physiological"],[701.7,"Starvation"],[767,"Lactate"]].forEach(d => label(d[0], 565, d[1], 9.4));
label(697, 429, "Peak distribution", 13);
label(546.7, 493, "Number of peaks (H3K27ac)", 11.2, {rotate: -90});
legend(peakTypes, 818, [471.7,487,502.3,517.7], ["#0000ee","#1a9af0","#6a6aff","#fff"], ["#334","#334","#556","#666"], 7, 6.4, 827.7, 9.1);

// --- PART 7: PANEL E ---
label(18, 544, "E", 12);
hBars(goProcessTerms, goProcessValues, {
  xDomain: [0, 8], x0: 280, x1: 462.7, y0: 567.9, y1: 813.1, top: 563, axisY: 815,
  pad: .33, fill: "#4c94f2", ticks: [0,2,4,6,8], termSize: 9.3, tickSize: 12.5, valueSize: 12
});
label(357.7, 547, "GO Biological Process", 13);
label(371.7, 846, "-Log (binomial p-value)", 9.4);

// --- PART 8: PANEL F ---
label(18, 853, "F", 12);
function rankPlot(o) {
  const x = d3.scaleLinear().domain(o.xDomain).range([o.box.x0, o.box.x1]);
  const y = d3.scaleLinear().domain([0, 20000]).range([o.box.y1, o.box.y0]);
  const line = d3.line().x((d, i) => x(o.rank[i])).y(d => y(d));
  svg.append("path").attr("d", line(o.tag)).attr("fill", "none").attr("stroke", "#111").attr("stroke-width", 1.4);
  const n = o.seTag.length - o.outliers;
  svg.append("path").attr("d", line.x((d, i) => x(o.seRank[i]))(o.seTag.slice(0, n)))
    .attr("fill", "none").attr("stroke", "#f00").attr("stroke-width", 1.6);
  svg.append("g").selectAll("circle").data(o.seTag).join("circle")
    .attr("cx", (d, i) => x(o.seRank[i])).attr("cy", d => y(d)).attr("r", .9).attr("fill", "#f00");
  panelBox(o.box, "#222", 1);
  const yAxis = svg.append("g").attr("transform", `translate(${o.box.x0},0)`)
    .call(d3.axisLeft(y).tickValues([0,5000,10000,15000,20000]).tickFormat(d3.format("d")).tickSize(3).tickPadding(1).tickSizeOuter(0));
  styleAxis(yAxis, 11);
  const xAxis = svg.append("g").attr("transform", `translate(0,${o.box.y1})`)
    .call(d3.axisBottom(x).tickValues(d3.range(1000, 25000, 1000)).tickSize(1.5).tickFormat(d => d % 10000 === 0 ? d : "").tickPadding(4).tickSizeOuter(0));
  styleAxis(xAxis, 11);
  label(o.cx, o.ty, o.title, 12.8);
  label(o.seX, 896.7, "SE identified: " + o.count, 11.3, {color: "#f00", italic: true});
  label(o.rx, o.ry, "Enhancer Rank", 11.1);
  label(o.lx, 945, "Tag Count", 11, {rotate: -90});
}
rankPlot({title: "Starvation", cx: 171, ty: 866.7, box: {x0: 116, x1: 230, y0: 883.3, y1: 1000}, xDomain: [-450, 25280],
  rank: starvRank, tag: starvTag, seRank: starvSeRank, seTag: starvSeTag, outliers: 4, count: seCounts[0], seX: 172, rx: 169, ry: 1028.7, lx: 64});
rankPlot({title: "Lactate", cx: 355.7, ty: 869, box: {x0: 298.3, x1: 411, y0: 883.3, y1: 1000}, xDomain: [-160, 24890],
  rank: lacRank, tag: lacTag, seRank: lacSeRank, seTag: lacSeTag, outliers: 4, count: seCounts[1], seX: 355.7, rx: 351, ry: 1029, lx: 249.3});

// --- PART 9: PANEL G ---
label(497, 613, "G", 12);
function profile(box, values, xDomain, xValues, yScale, stroke, width) {
  const x = d3.scaleLinear().domain(xDomain).range([box.x0, box.x1]);
  const line = d3.line().x((d, i) => x(xValues(i))).y(d => yScale(d));
  svg.append("path").attr("d", line(values)).attr("fill", "none").attr("stroke", stroke).attr("stroke-width", width);
  panelBox(box);
}
const seY = d3.scaleLinear().domain([4, 14]).range([721.3, 663.7]);
const seBoxes = [{x0: 516.3, x1: 599.7, y0: 654.3, y1: 729}, {x0: 614.3, x1: 697.7, y0: 654.3, y1: 729}];
[seStarvProfile, seLacProfile].forEach((vals, i) => {
  profile(seBoxes[i], vals, [0, vals.length - 1], k => k, seY, "#2430a0", 1.1);
  const axis = svg.append("g").attr("transform", `translate(${seBoxes[i].x0},0)`)
    .call(d3.axisLeft(seY).tickValues([4,6,8,10,12,14]).tickSize(2).tickPadding(1.5));
  axis.select(".domain").remove();
  styleAxis(axis, 7.2);
  if (i > 0) axis.selectAll("text").remove();
});
label(558, 644, "Starvation", 12.8);
label(655.7, 644, "Lactate", 12.8);
label(493.3, 691.7, "Genes", 12, {rotate: -90});
svg.append("line").attr("x1", 673).attr("x2", 681).attr("y1", 659).attr("y2", 659).attr("stroke", "#5a62b8").attr("stroke-width", 1);
label(683, 659, "genes", 3.6, {anchor: "start"});

const seColor = d3.scaleSequential(d3.interpolateRdYlBu).domain([0, 39.7]);
drawHeat(heatSeStarv, d3.range(17), {x0: 514.7, x1: 601.7, y0: 739, y1: 1001.7}, seColor, [1.6, .6]);
drawHeat(heatSeLac, d3.range(27), {x0: 615, x1: 702, y0: 739, y1: 1001.7}, seColor, [.7, .6]);
drawColorbar({x0: 707.7, x1: 712.3, y0: 739, y1: 1001}, seColor, 39.7, seTicks, d3.format("d"), 8, 1.5);
label(498, 875, "Super-enhancers", 11, {rotate: -90});
[[522,"-2.0kb"],[558.7,"Peak center"],[594.7,"+2.0kb"],[623,"-2.0kb"],[659,"Peak center"],[698,"+2.0kb"]]
  .forEach(d => label(d[0], 1008.7, d[1], 8));
[558.7, 659].forEach(cx => {
  label(cx, 1024, "Distance", 7.8);
  label(cx, 1031.7, "(bp)", 7.8);
});

// --- PART 10: PANEL H ---
label(762, 613, "H", 12);
const peakY = d3.scaleLinear().domain([0, 2]).range([727, 662.3]);
const peakBoxes = [{x0: 759.7, x1: 843.3, y0: 652.7, y1: 726.7}, {x0: 859, x1: 940, y0: 655, y1: 727}];
[peakStarvProfile, peakLacProfile].forEach((vals, i) => {
  profile(peakBoxes[i], vals, [-5, 5], k => peakDistance[k], peakY, "#6a6ec4", 1.1);
  const axis = svg.append("g").attr("transform", `translate(${peakBoxes[i].x0},0)`)
    .call(d3.axisLeft(peakY).tickValues([0,.5,1,1.5,2]).tickFormat(d3.format(".1f")).tickSize(2).tickPadding(1));
  axis.select(".domain").remove();
  styleAxis(axis, 6.6);
  if (i > 0) axis.selectAll("text").remove();
});
label(799, 641, "Starvation", 12.8);
label(900, 642.7, "Lactate", 12.8);
label(740.7, 692.7, "Peak intensity", 11.2, {rotate: -90});
svg.append("line").attr("x1", 923).attr("x2", 928).attr("y1", 658).attr("y2", 658).attr("stroke", "#6a6ec4").attr("stroke-width", .8);
label(929, 658, "Region", 2.6, {anchor: "start"});

const peakColor = d3.scaleSequential(d3.interpolateBlues).domain([0, 1.215]);
drawHeat(heatPeakStarv, peakEdges, {x0: 760.7, x1: 844.7, y0: 739, y1: 996.7}, peakColor, [.5, 8]);
drawHeat(heatPeakLac, peakEdges, {x0: 861, x1: 942.7, y0: 739, y1: 996.7}, peakColor, [.5, 8]);
drawColorbar({x0: 948, x1: 952, y0: 739, y1: 996}, peakColor, 1.215, peakTicks, d3.format(".1f"), 9.5, 1.5);
label(745, 872, "Peaks", 11, {rotate: -90});
[[759.3,"-5.0 kb"],[801.7,"Peak center"],[839.3,"5.0 kb"],[866.7,"-5.0 kb"],[902.7,"Peak center"],[946.7,"5.0 kb"]]
  .forEach(d => label(d[0], 1008.5, d[1], 8));
[801.7, 903.3].forEach(cx => {
  label(cx, 1024, "Distance", 7.8);
  label(cx, 1031.7, "(bp)", 7.8);
});
</script>
</body>
</html>
